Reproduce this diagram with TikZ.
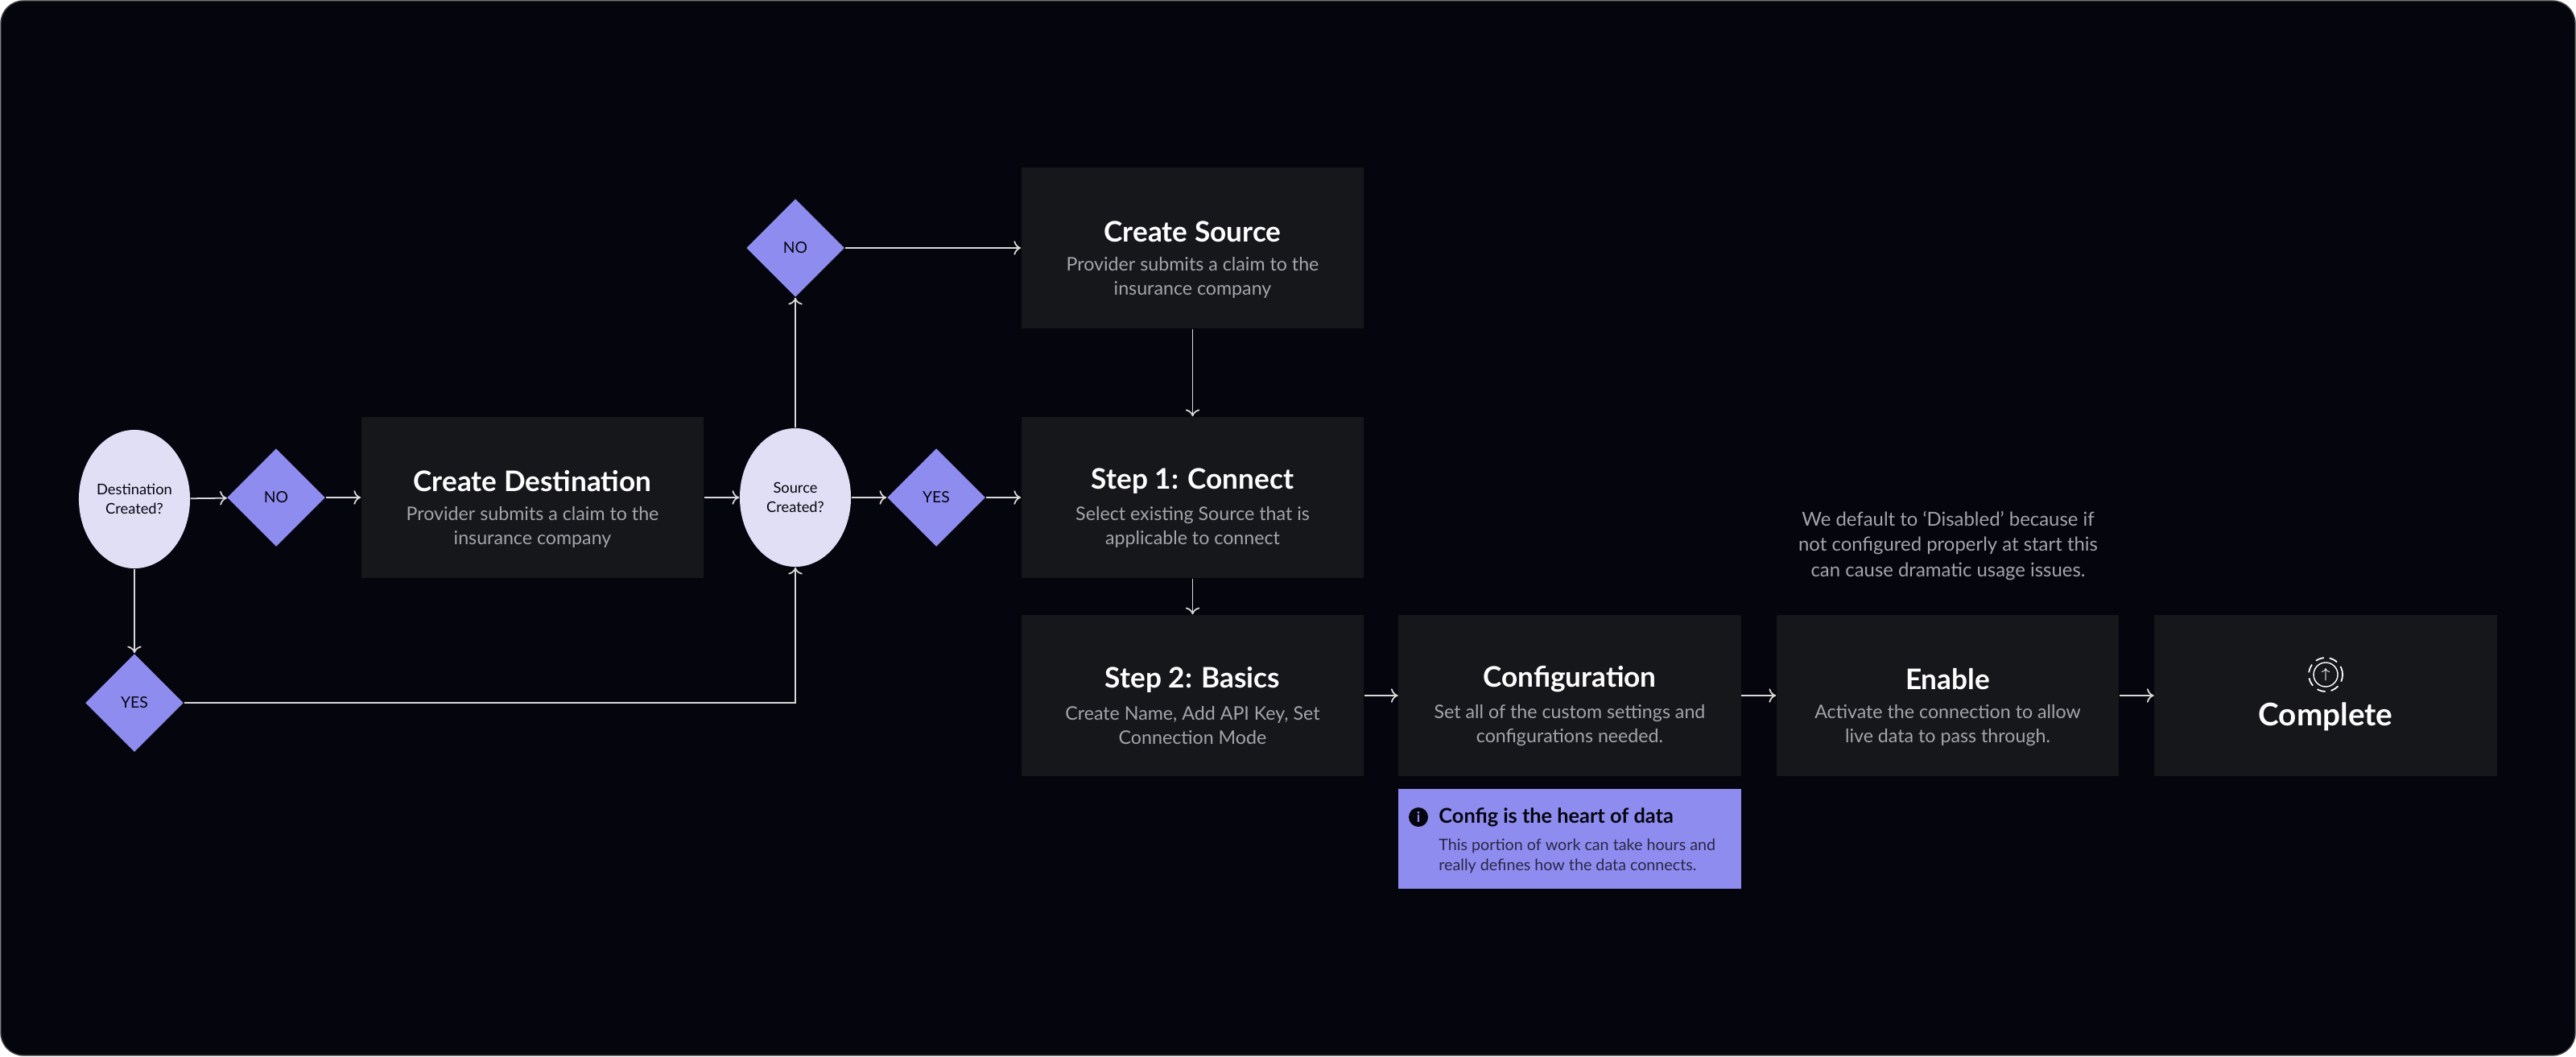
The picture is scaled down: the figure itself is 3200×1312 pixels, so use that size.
\documentclass[tikz,border=0pt]{standalone}
\usepackage{fontspec}
\setmainfont{Lato}
\usetikzlibrary{positioning,shapes.geometric,arrows.meta}
\definecolor{bgdark}{HTML}{05050D}
\definecolor{boxgray}{HTML}{15171B}
\definecolor{lilac}{HTML}{8F8CF0}
\definecolor{pale}{HTML}{E0DFF5}
\definecolor{subgray}{HTML}{A3A5AB}
\tikzset{
  stage/.style={fill=boxgray, minimum width=4.25cm, minimum height=2cm},
  stagetitle/.style={text=white, font=\fontsize{10}{11}\selectfont\bfseries},
  stagesub/.style={text=subgray, align=center, font=\fontsize{6.6}{8.4}\selectfont},
  choice/.style={diamond, fill=lilac, minimum width=1.22cm, minimum height=1.22cm, inner sep=0pt, font=\fontsize{5.5}{6}\selectfont, text=bgdark},
  query/.style={ellipse, fill=pale, minimum width=1.38cm, minimum height=1.72cm, inner sep=0pt, align=center, font=\fontsize{5.2}{7}\selectfont, text=bgdark},
  flow/.style={draw=white!85!black, line width=0.5pt, -{To[length=2.5pt,width=5pt]}},
}
\begin{document}
\begin{tikzpicture}[x=0.01cm, y=-0.01cm]
    %% Background
    \fill[bgdark, draw=white!25!black, rounded corners=8pt] (1,1) rectangle (3199,1311);
    \useasboundingbox (0,0) rectangle (3200,1312);
    %% Steps
    \node[stage] (dest) at (661.5,618) {};
    \node[stage] (source) at (1481.5,308) {};
    \node[stage] (connect) at (1481.5,618) {};
    \node[stage] (basics) at (1481.5,864) {};
    \node[stage] (config) at (1950,864) {};
    \node[stage] (enable) at (2419.5,864) {};
    \node[stage] (done) at (2889,864) {};
    \foreach \n/\t/\s in {dest/Create Destination/{Provider submits a claim to the\\insurance company},
        source/Create Source/{Provider submits a claim to the\\insurance company},
        connect/Step 1: Connect/{Select existing Source that is\\applicable to connect},
        basics/Step 2: Basics/{Create Name, Add API Key, Set\\Connection Mode},
        config/Configuration/{Set all of the custom settings and\\configurations needed.},
        enable/Enable/{Activate the connection to allow\\live data to pass through.}}{
      \node[stagetitle] (\n-title) at ([yshift=0.2cm]\n.center) {\t};
      \node[stagesub] (\n-sub) at ([yshift=-0.37cm]\n.center) {\s};
    }
    \node[stagetitle, font=\fontsize{11}{12}\selectfont\bfseries] (done-title) at ([yshift=-0.26cm]done.center) {Complete};
    \node[circle, draw=white, densely dashed, line width=0.5pt, minimum size=0.42cm, inner sep=0pt] (thumb) at ([yshift=0.26cm]done.center) {};
    \node[circle, draw=white, line width=0.4pt, minimum size=0.3cm, inner sep=0pt, font=\fontsize{5}{5}\selectfont\bfseries, text=white] at (thumb) {$\uparrow$};
    %% Decisions
    \node[query] (destq) at (167,620) {Destination\\Created?};
    \node[query] (srcq) at (988,618) {Source\\Created?};
    \node[choice] (destno) at (343,618) {NO};
    \node[choice] (destyes) at (167,873) {YES};
    \node[choice] (srcyes) at (1163,618) {YES};
    \node[choice] (srcno) at (988,308) {NO};
    %% Notes
    \node[text=subgray, align=center, font=\fontsize{6.8}{9}\selectfont] (note) at (2420,678) {We default to `Disabled' because if\\not configured properly at start this\\can cause dramatic usage issues.};
    \node[fill=lilac, minimum width=4.25cm, minimum height=1.24cm, inner sep=0pt] (tip) at (1950,1042) {};
    \node[anchor=west, font=\fontsize{7.2}{8}\selectfont\bfseries, text=bgdark] (tiphead) at (1775,1015) {Config is the heart of data};
    \node[circle, fill=bgdark, inner sep=0pt, minimum size=0.24cm, text=lilac, font=\fontsize{5}{5}\selectfont\bfseries] (info) at (1762,1015) {i};
    \node[anchor=north west, align=left, font=\fontsize{5.6}{7}\selectfont, text=bgdark!75!lilac] (tipbody) at (1775,1030) {This portion of work can take hours and\\really defines how the data connects.};
    %% Connectors
    \draw[flow] (destq) -- (destno);
    \draw[flow] (destno) -- (dest);
    \draw[flow] (dest) -- (srcq);
    \draw[flow] (srcq) -- (srcyes);
    \draw[flow] (srcyes) -- (connect);
    \draw[flow] (srcq) -- (srcno);
    \draw[flow] (srcno) -- (source);
    \draw[flow] (source) -- (connect);
    \draw[flow] (connect) -- (basics);
    \draw[flow] (basics) -- (config);
    \draw[flow] (config) -- (enable);
    \draw[flow] (enable) -- (done);
    \draw[flow] (destq) -- (destyes);
    \draw[flow] (destyes) -| (srcq);
\end{tikzpicture}
\end{document}
